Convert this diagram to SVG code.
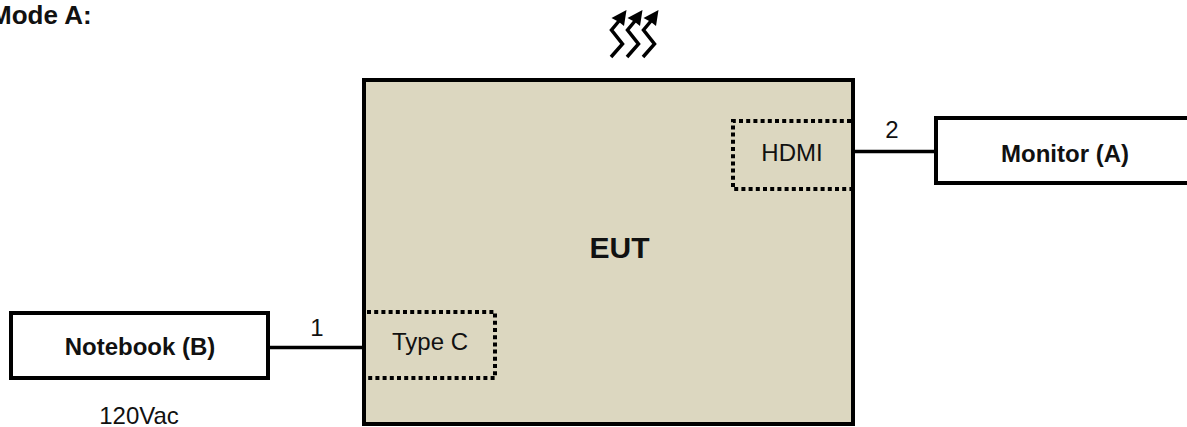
<svg xmlns="http://www.w3.org/2000/svg" width="1187" height="427" viewBox="0 0 1187 427">
<defs><style>
text{font-family:"Liberation Sans",Arial,sans-serif;fill:#111;font-size:24px}
.b{font-weight:bold}
.box{fill:#fff;stroke:#000;stroke-width:4}
.dot{fill:none;stroke:#000;stroke-width:4;stroke-dasharray:4 3.2}
.wire{fill:none;stroke:#000;stroke-width:3.5}
.heat{fill:none;stroke:#000;stroke-width:3.5}
</style>
<g id="heatGlyph"><path class="heat" d="M611 57L622.500 44L611.500 30L619 21"/><polygon points="611.500,18 626.500,10 624,26 619,22" fill="#000"/></g>
</defs>
<rect width="1187" height="427" fill="#fff"/>
<text class="b" x="-10" y="24" style="font-size:26px">Mode A:</text>
<g id="heat"><use href="#heatGlyph"/><use href="#heatGlyph" x="16"/><use href="#heatGlyph" x="32"/></g>
<g id="connectors">
<path class="wire" d="M269 347.500H364"/>
<path class="wire" d="M853 151.500H936"/>
</g>
<g id="eut"><rect x="364" y="80" width="489" height="344" fill="#dcd7c0" stroke="#000" stroke-width="4"/>
<text class="b" x="619.500" y="258" style="font-size:30px" text-anchor="middle">EUT</text></g>
<g id="hdmi"><path class="dot" d="M851 121H733V189H851"/><text x="792" y="161" text-anchor="middle">HDMI</text></g>
<g id="typec"><path class="dot" d="M367 312H495V378H367"/><text x="430" y="350" text-anchor="middle">Type C</text></g>
<g id="monitor"><path class="box" d="M1189 118H936V183H1189"/><text class="b" x="1065" y="162" text-anchor="middle">Monitor (A)</text></g>
<g id="notebook"><rect class="box" x="11" y="313" width="257" height="65"/><text class="b" x="140" y="355" text-anchor="middle">Notebook (B)</text></g>
<text x="317" y="336" text-anchor="middle">1</text>
<text x="892" y="138" text-anchor="middle">2</text>
<text x="139" y="424" text-anchor="middle">120Vac</text>
</svg>
